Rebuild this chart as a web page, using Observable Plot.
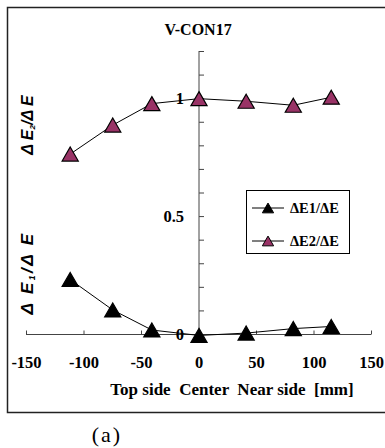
<!DOCTYPE html>
<html>
<head>
<meta charset="utf-8">
<script src="https://cdn.jsdelivr.net/npm/d3@7"></script>
<script src="https://cdn.jsdelivr.net/npm/@observablehq/plot@0.6"></script>
<style>
  html, body { margin: 0; padding: 0; background: white; overflow: hidden; }
  #chart svg { display: block; }
</style>
</head>
<body>
<div id="chart"></div>
<script>
// ---- data ----
const positions = [-112, -75, -41, 0, 41, 82, 115];
const e1Values = [0.233, 0.104, 0.019, -0.004, 0.006, 0.025, 0.034];
const e2Values = [0.765, 0.888, 0.979, 1.0, 0.989, 0.972, 1.006];
const xTicks = [-150, -100, -50, 0, 50, 100, 150];
const yTicks = [0, 0.1, 0.2, 0.3, 0.4, 0.5, 0.6, 0.7, 0.8, 0.9, 1.0, 1.1, 1.2];
const yLabelTicks = [0, 0.5, 1];
const seriesNames = ["ΔE1/ΔE", "ΔE2/ΔE"];
const seriesColors = ["#000000", "#993366"];
const titleText = "V-CON17";
const xTitle = "Top side  Center  Near side  [mm]";
const captionText = "(a)";

const e1 = positions.map((x, i) => ({x, y: e1Values[i]}));
const e2 = positions.map((x, i) => ({x, y: e2Values[i]}));

// custom tick symbols
const tickUp = {draw(ctx) { ctx.moveTo(0, 0); ctx.lineTo(0, -4); }};
const tickRight = {draw(ctx) { ctx.moveTo(0, 0); ctx.lineTo(5, 0); }};

const serif = "Liberation Serif";
const sans = "Liberation Sans";

const chart = Plot.plot({
  width: 385,
  height: 448,
  marginLeft: 26,
  marginRight: 14,
  marginTop: 51,
  marginBottom: 114,
  x: {domain: [-150, 150], axis: null},
  y: {domain: [0, 1.2], axis: null},
  style: {background: "white", fontFamily: serif},
  marks: [
    // x axis line and ticks
    Plot.ruleY([0], {x1: -150, x2: 150, stroke: "#444", strokeWidth: 1}),
    Plot.dot(xTicks, {x: d => d, y: 0, symbol: tickUp, stroke: "#444", fill: "none", strokeWidth: 1}),
    // y axis line and ticks at x = 0
    Plot.ruleX([0], {y1: 0, y2: 1.2, stroke: "#444", strokeWidth: 1}),
    Plot.dot(yTicks, {x: 0, y: d => d, symbol: tickRight, stroke: "#444", fill: "none", strokeWidth: 1}),
    // tick labels
    Plot.text(xTicks, {x: d => d, y: 0, dy: 28, text: d => String(d), fontFamily: serif, fontSize: 16.5, fontWeight: 700, fill: "black"}),
    Plot.text(yLabelTicks, {x: 0, y: d => d, dx: -15, textAnchor: "end", text: d => String(d), fontFamily: serif, fontSize: 16.5, fontWeight: 700, fill: "black"}),
    // series lines
    Plot.line(e1, {x: "x", y: "y", stroke: "black", strokeWidth: 1}),
    Plot.line(e2, {x: "x", y: "y", stroke: "black", strokeWidth: 1}),
    // markers
    Plot.dot(e1, {x: "x", y: "y", symbol: "triangle", r: 6, dy: 2.3, fill: seriesColors[0], stroke: "black", strokeWidth: 1.2}),
    Plot.dot(e2, {x: "x", y: "y", symbol: "triangle", r: 6, dy: 2.3, fill: seriesColors[1], stroke: "black", strokeWidth: 1.2})
  ]
});

document.getElementById("chart").appendChild(chart);

// ---- decorations: frame, title, axis titles, legend, caption ----
const svg = d3.select(chart);

// frame (left, top, bottom edges; right edge lies outside the picture)
svg.insert("path", ":first-child")
  .attr("d", "M390,7.5H7.5V412.5H390")
  .attr("fill", "none").attr("stroke", "#222").attr("stroke-width", 1.5);

svg.append("text")
  .attr("x", 198).attr("y", 35)
  .attr("text-anchor", "middle")
  .attr("font-family", serif).attr("font-weight", 700).attr("font-size", 16)
  .text(titleText);

svg.append("text")
  .attr("x", 232).attr("y", 395)
  .attr("text-anchor", "middle")
  .attr("font-family", serif).attr("font-weight", 700).attr("font-size", 17)
  .style("white-space", "pre")
  .attr("xml:space", "preserve")
  .text(xTitle);

svg.append("text")
  .attr("x", 107).attr("y", 442)
  .attr("text-anchor", "middle")
  .attr("font-family", serif).attr("font-size", 22)
  .attr("letter-spacing", 2)
  .text(captionText);

// rotated y titles
function yTitle(cx, cy, sub, size, spacing) {
  const t = svg.append("text")
    .attr("transform", `translate(${cx},${cy}) rotate(-90)`)
    .attr("text-anchor", "middle")
    .attr("font-family", sans)
    .attr("font-weight", 700).attr("font-style", "italic")
    .attr("font-size", size)
    .attr("letter-spacing", spacing);
  t.append("tspan").attr("dy", size * 0.36).text("Δ E");
  t.append("tspan").attr("font-size", size * 0.5).attr("dy", 2).text(sub);
  t.append("tspan").attr("dy", -2).text("/Δ E");
}
yTitle(27, 125, "2", 16, 0);
yTitle(27, 273, "1", 17, 2.5);

// legend
const lg = svg.append("g");
lg.append("rect").attr("x", 246.5).attr("y", 190.5).attr("width", 103).attr("height", 63)
  .attr("fill", "white").attr("stroke", "black").attr("stroke-width", 1);
const legendRows = [208, 241];
seriesNames.forEach((name, i) => {
  const y = legendRows[i];
  lg.append("line").attr("x1", 252).attr("x2", 284).attr("y1", y).attr("y2", y)
    .attr("stroke", "black").attr("stroke-width", 1);
  lg.append("path")
    .attr("d", d3.symbol(d3.symbolTriangle, 55)())
    .attr("transform", `translate(268,${y + 1.6})`)
    .attr("fill", seriesColors[i]).attr("stroke", "black").attr("stroke-width", 1);
  lg.append("text").attr("x", 290).attr("y", y + 5)
    .attr("text-anchor", "start")
    .attr("font-family", serif).attr("font-weight", 700).attr("font-size", 14.5)
    .text(name);
});
</script>
</body>
</html>
